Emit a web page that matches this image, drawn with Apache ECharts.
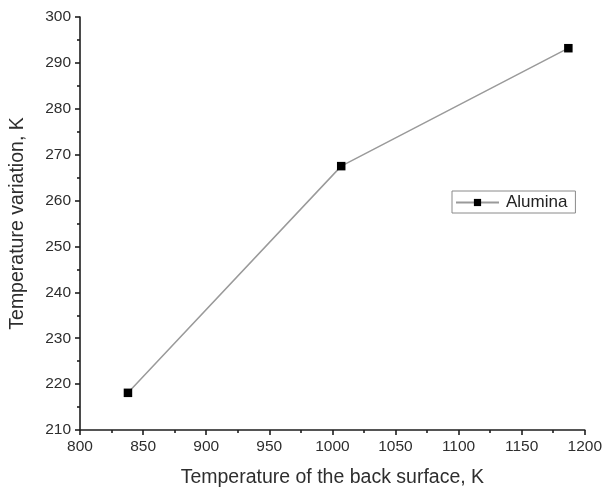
<!DOCTYPE html>
<html>
<head>
<meta charset="utf-8">
<script src="https://cdn.jsdelivr.net/npm/echarts@6/dist/echarts.min.js"></script>
<style>
  html, body { margin: 0; padding: 0; background: #fff; }
  #chart { width: 605px; height: 493px; }
</style>
</head>
<body>
<div id="chart"></div>
<script>
// Back-surface temperature (K) and the resulting temperature variation (K)
const seriesName = 'Alumina';
const backSurfaceTemp = [838, 1007, 1187];
const tempVariation = [218.1, 267.5, 293.2];

const xTitle = 'Temperature of the back surface, K';
const yTitle = 'Temperature variation, K';

const points = backSurfaceTemp.map((x, i) => [x, tempVariation[i]]);

const font = 'Liberation Sans, Arial, sans-serif';
const axisColor = '#1e1e1e';
const labelColor = '#2e2e2e';

const plainNumber = v => String(v);

const chart = echarts.init(document.getElementById('chart'), null, { renderer: 'canvas' });
chart.setOption({
  animation: false,
  backgroundColor: '#fff',
  grid: { left: 76, right: 18, top: 17, bottom: 63, containLabel: false },
  xAxis: {
    type: 'value',
    min: 800, max: 1200, interval: 50,
    name: xTitle,
    nameLocation: 'middle',
    nameGap: 38,
    nameTextStyle: { fontFamily: font, fontSize: 19.5, color: labelColor },
    axisLine: { show: true, onZero: false, lineStyle: { color: axisColor, width: 1.6 } },
    axisTick: { show: true, inside: false, length: 5, lineStyle: { color: axisColor, width: 1.6 } },
    minorTick: { show: true, splitNumber: 2, length: 3, lineStyle: { color: axisColor, width: 1.6 } },
    axisLabel: { fontFamily: font, fontSize: 15.5, color: labelColor, margin: 9, formatter: plainNumber },
    splitLine: { show: false }
  },
  yAxis: {
    type: 'value',
    min: 210, max: 300, interval: 10,
    name: yTitle,
    nameLocation: 'middle',
    nameGap: 52,
    nameRotate: 90,
    nameTextStyle: { fontFamily: font, fontSize: 19.5, color: labelColor },
    axisLine: { show: true, onZero: false, lineStyle: { color: axisColor, width: 1.6 } },
    axisTick: { show: true, inside: false, length: 5, lineStyle: { color: axisColor, width: 1.6 } },
    minorTick: { show: true, splitNumber: 2, length: 3, lineStyle: { color: axisColor, width: 1.6 } },
    axisLabel: { fontFamily: font, fontSize: 15.5, color: labelColor, margin: 9, formatter: plainNumber },
    splitLine: { show: false }
  },
  legend: {
    show: true,
    left: 452, top: 191,
    orient: 'vertical',
    borderColor: '#8a8a8a',
    borderWidth: 1,
    borderRadius: 0,
    padding: [3, 8, 2, 3],
    itemWidth: 43,
    itemHeight: 9,
    itemGap: 0,
    textStyle: { fontFamily: font, fontSize: 17, color: '#222', padding: [0, 0, 0, 2] },
    data: [seriesName]
  },
  series: [{
    name: seriesName,
    type: 'line',
    data: points,
    symbol: 'rect',
    symbolSize: 8.5,
    itemStyle: { color: '#000' },
    lineStyle: { color: '#9a9a9a', width: 1.5 }
  }]
});
</script>
</body>
</html>
